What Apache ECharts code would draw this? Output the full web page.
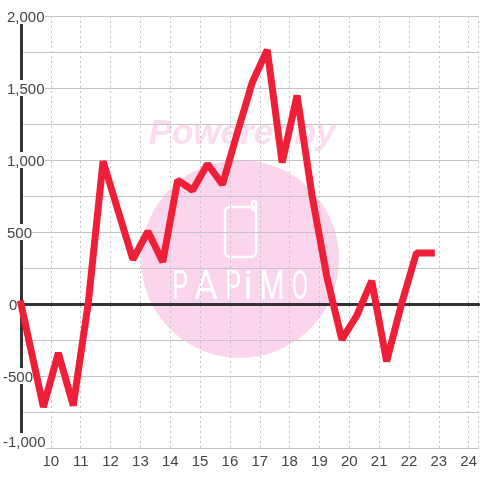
<!DOCTYPE html>
<html>
<head>
<meta charset="utf-8">
<style>
  html, body { margin: 0; padding: 0; background: #fff; }
  #chart { width: 480px; height: 480px; }
</style>
<script src="https://cdn.jsdelivr.net/npm/echarts@6/dist/echarts.min.js"></script>
</head>
<body>
<div id="chart"></div>
<script>
const hours = [9, 9.75, 10.25, 10.75, 11.25, 11.75, 12.25, 12.75, 13.25, 13.75, 14.25, 14.75, 15.25, 15.75,
  16.25, 16.75, 17.25, 17.75, 18.25, 18.75, 19.25, 19.75, 20.25, 20.75, 21.25, 21.75, 22.25, 22.75];
const values = [0, -715, -340, -705, 0, 992, 650, 309, 505, 292, 860, 790, 972, 830,
  1190, 1540, 1765, 983, 1448, 755, 187, -247, -80, 160, -399, 0, 355, 355];

const chart = echarts.init(document.getElementById('chart'), null, { renderer: 'canvas' });
const font = '"Liberation Sans", Arial, sans-serif';
const pink = '#fbd5ec';

// y labels hang left from x=2, digits line up at 6, only the minus sticks out
function yLabel(v) {
  const s = v.toLocaleString('en-US');
  if (v === -1000) return '{n|' + s + '}\n{e| }';
  if (v < 0) return '{n|' + s + '}';
  if (v === 0) return '{z|' + s + '}';
  return '{p|' + s + '}';
}

// one letter of the watermark logo
function logoLetter(ch, x, sx) {
  return {
    type: 'text', z: -1, x: x, y: 289, scaleX: sx, style: {
      text: ch, align: 'center', verticalAlign: 'middle',
      font: '400 40px Roboto, ' + font, fill: '#fff'
    }
  };
}

const option = {
  animation: false,
  backgroundColor: '#fff',
  grid: { left: 20, right: 0, top: 16, bottom: 32 },
  graphic: [
    { type: 'circle', z: -1, shape: { cx: 240, cy: 259, r: 99 }, style: { fill: pink } },
    { type: 'text', z: -1, x: 242, y: 134, style: {
      text: 'Poweredby', align: 'center', verticalAlign: 'middle',
      font: 'italic bold 35px ' + font, fill: '#fcdcef' } },
    // phone outline and its antenna
    { type: 'rect', z: -1, shape: { x: 225, y: 207, width: 31, height: 50, r: [5, 0, 5, 5] },
      style: { fill: 'none', stroke: '#fff', lineWidth: 2.5 } },
    { type: 'rect', z: -1, shape: { x: 252, y: 201, width: 4, height: 9, r: 2 },
      style: { fill: 'none', stroke: '#fff', lineWidth: 2.5 } },
    logoLetter('P', 180, 0.62),
    logoLetter('A', 206, 0.9),
    logoLetter('P', 233, 0.62),
    logoLetter('i', 248, 1),
    logoLetter('M', 272, 0.72),
    logoLetter('O', 300, 0.6)
  ],
  xAxis: [
    {
      // axis is in minutes so the 460px plot gives exactly 30px per hour
      type: 'value', min: 540, max: 1460, interval: 60, position: 'bottom',
      axisLine: { show: false, onZero: false },
      axisTick: { show: false },
      axisLabel: {
        color: '#444', fontFamily: font, fontSize: 15, margin: 6,
        showMinLabel: false, showMaxLabel: false,
        formatter: v => String(v / 60)
      },
      splitLine: { show: true, lineStyle: { type: [2, 3], color: '#c4c4c4', width: 1 } }
    },
    {
      // thick line at zero
      type: 'value', min: 540, max: 1460, interval: 60, position: 'bottom', z: 3,
      axisLine: { show: true, onZero: true, lineStyle: { color: '#333', width: 3 } },
      axisTick: { show: false },
      axisLabel: { show: false },
      splitLine: { show: false }
    }
  ],
  yAxis: {
    type: 'value', min: -1000, max: 2000, interval: 250, z: 1,
    axisLine: { show: true, onZero: false, lineStyle: { color: '#333', width: 3 } },
    axisTick: { show: false },
    axisLabel: {
      align: 'left', margin: 18, color: '#444', fontFamily: font, fontSize: 15,
      backgroundColor: '#fff',
      formatter: v => (v % 500 === 0 ? yLabel(v) : ''),
      rich: {
        n: { fontFamily: font, fontSize: 15, color: '#444', lineHeight: 16, padding: [3, 0, 0, 0] },
        p: { fontFamily: font, fontSize: 15, color: '#444', lineHeight: 16, padding: [3, 0, 0, 4] },
        z: { fontFamily: font, fontSize: 15, color: '#444', lineHeight: 16, padding: [3, 0, 0, 6] },
        e: { fontSize: 10, lineHeight: 14 }
      }
    },
    splitLine: { show: true, lineStyle: { color: '#c4c4c4', width: 1 } }
  },
  series: [{
    type: 'line',
    xAxisIndex: 0,
    showSymbol: false,
    z: 6,
    lineStyle: { color: '#ef1f38', width: 7, cap: 'square', join: 'bevel' },
    data: hours.map((h, i) => [h * 60, values[i]])
  }]
};

chart.setOption(option);
</script>
</body>
</html>
